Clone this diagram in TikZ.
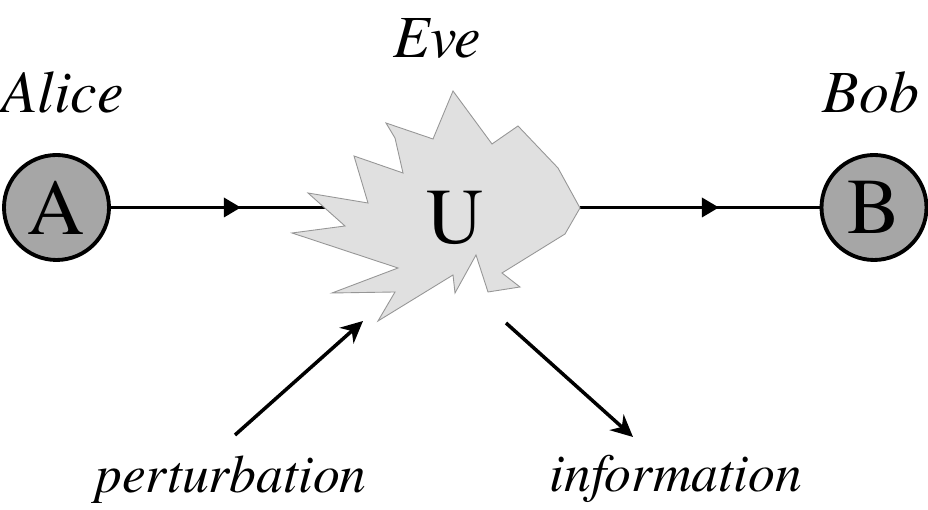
\documentclass[tikz,border=0pt]{standalone}
\usepackage{fontspec}
\setmainfont{TeX Gyre Termes}
\usetikzlibrary{arrows.meta,decorations.markings}
\definecolor{partygray}{RGB}{166,166,166}
\definecolor{evefill}{RGB}{224,224,224}
\definecolor{eveline}{RGB}{150,150,150}
\tikzset{
  party/.style={draw,circle,fill=partygray,line width=2.2pt,minimum size=2.1cm,inner sep=0pt,font=\fontsize{45}{52}\selectfont},
  who/.style={anchor=base,font=\fontsize{34}{40}\selectfont\itshape},
  what/.style={anchor=base,font=\fontsize{30.5}{36}\selectfont\itshape},
  flow/.style={line width=2pt,postaction={decorate},decoration={markings,mark=at position 0.58 with {\arrow{Triangle[length=0.34cm,width=0.38cm]}}}},
  leak/.style={line width=2pt,-{Stealth[length=0.44cm,width=0.42cm,inset=0.14cm]}}
}
\begin{document}
\begin{tikzpicture}
\useasboundingbox (0,0) rectangle (18.56,10.2);
\node[party] (A)at(1.13,6.05){A};
\node[party] (B)at(17.48,6.05){B};
\coordinate (Uw)at(6.7,6.05);
\coordinate (Ue)at(11.6,6.05);
\draw[flow] (A) -- (Uw);
\draw[flow] (Ue) -- (B);
\draw[fill=evefill,draw=eveline,line width=0.5pt] (11.6,6.04) -- (11.3,5.52) -- (10.04,4.74) -- (10.4,4.46)
  -- (9.76,4.36) -- (9.52,5.1) -- (9.1,4.34) -- (9.06,4.7) -- (7.56,3.78) -- (7.9,4.36)
  -- (6.64,4.34) -- (7.96,4.84) -- (5.84,5.54) -- (6.9,5.68) -- (6.16,6.34) -- (7.36,6.14)
  -- (7.08,7.08) -- (8.06,6.74) -- (7.9,7.44) -- (7.72,7.74) -- (8.66,7.42) -- (9.06,8.38)
  -- (9.84,7.32) -- (10.36,7.68) -- (11.16,6.84) -- cycle;
\node[font=\fontsize{45}{52}\selectfont] (U)at(9.1,5.84){U};
\node[who] (alice)at(1.25,7.94){Alice};
\node[who] (eve)at(8.75,9.04){Eve};
\node[who] (bob)at(17.42,7.94){Bob};
\node[what] (pert)at(4.62,0.34){perturbation};
\node[what] (info)at(13.52,0.36){information};
\coordinate (pin)at(4.7,1.5);
\coordinate (pout)at(7.26,3.78);
\coordinate (iin)at(10.12,3.74);
\coordinate (iout)at(12.66,1.46);
\draw[leak] (pin) -- (pout);
\draw[leak] (iin) -- (iout);
\end{tikzpicture}
\end{document}
